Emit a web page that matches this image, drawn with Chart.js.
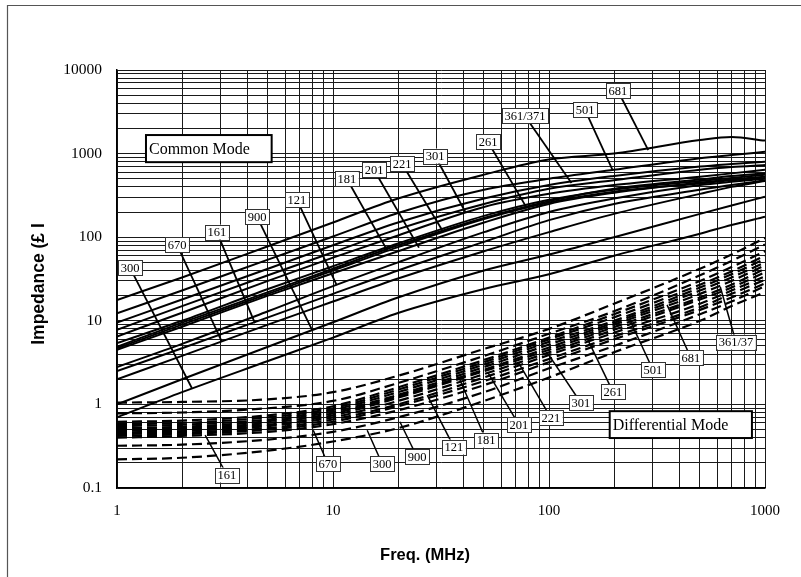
<!DOCTYPE html>
<html><head><meta charset="utf-8">
<script src="https://cdn.jsdelivr.net/npm/chart.js@4/dist/chart.umd.min.js"></script>
<style>html,body{margin:0;padding:0;background:#fff;}canvas{display:block;}</style>
</head><body>
<canvas id="c" width="801" height="577"></canvas>
<script>
// ---- data (MHz / Ohm) ----
const freqs = [1, 2, 5, 10, 20, 50, 100, 200, 500, 700, 1000];
// Common mode impedance curves
const cm681 = [17.7, 33, 78, 150, 290, 560, 850, 1000, 1450, 1580, 1430];
const cm501 = [12.3, 23, 54, 102, 195, 370, 500, 640, 880, 960, 1050];
const cm361 = [9.5, 18, 42, 80, 150, 290, 420, 540, 700, 750, 800];
const cm371 = [7.8, 15, 35, 66, 125, 250, 380, 480, 640, 690, 730];
const cm301 = [6.5, 12.5, 30, 57, 105, 230, 330, 420, 530, 580, 640];
const cm261 = [4.9, 9.5, 22, 42, 80, 170, 270, 380, 490, 540, 580];
const cm221 = [5.4, 10, 24, 45, 84, 180, 280, 370, 470, 510, 560];
const cm201 = [4.5, 8.5, 20, 37, 68, 150, 250, 340, 450, 490, 530];
const cm181 = [4.7, 9, 21, 40, 76, 165, 260, 350, 440, 480, 510];
const cm121 = [2.8, 5.3, 13, 26, 50, 115, 200, 290, 420, 460, 500];
const cm161 = [2.5, 4.7, 11, 21, 40, 88, 160, 250, 370, 420, 480];
const cm670 = [2.0, 3.8, 9, 17, 32, 68, 115, 190, 330, 400, 470];
const cm900 = [1.0, 2.0, 4.9, 9.6, 19, 40, 62, 100, 190, 240, 305];
const cm300 = [0.7, 1.4, 3.3, 6.3, 12.4, 24, 36, 60, 110, 140, 176];
// Differential mode impedance curves
const dmA = [1.05, 1.07, 1.15, 1.4, 2.2, 4.6, 8, 16, 42, 62, 98];
const dmB = [0.78, 0.8, 0.9, 1.1, 1.8, 3.8, 7, 13, 35, 52, 82];
const dmC = [0.62, 0.64, 0.74, 0.95, 1.6, 3.4, 6.3, 12, 30, 44, 68];
const dmD = [0.58, 0.6, 0.7, 0.9, 1.5, 3.2, 6, 11, 27, 39, 60];
const dmE = [0.55, 0.57, 0.66, 0.86, 1.4, 3.0, 5.6, 10, 25, 36, 55];
const dmF = [0.52, 0.54, 0.63, 0.82, 1.3, 2.8, 5.2, 9.5, 23, 33, 50];
const dmG = [0.5, 0.52, 0.6, 0.78, 1.25, 2.6, 4.8, 9, 21, 30, 46];
const dmH = [0.48, 0.5, 0.57, 0.74, 1.2, 2.5, 4.5, 8.4, 19, 27, 42];
const dmI = [0.46, 0.48, 0.55, 0.7, 1.1, 2.3, 4.2, 7.8, 18, 25, 38];
const dmJ = [0.44, 0.46, 0.52, 0.66, 1.0, 2.1, 3.9, 7.2, 16, 23, 34];
const dmK = [0.42, 0.44, 0.5, 0.62, 0.95, 1.9, 3.5, 6.5, 14.5, 21, 31];
const dmL = [0.4, 0.42, 0.47, 0.58, 0.85, 1.7, 3.2, 6, 13.5, 19, 28];
const dmM = [0.32, 0.33, 0.38, 0.47, 0.7, 1.4, 2.7, 5, 12, 17, 26];
const dmN = [0.22, 0.23, 0.28, 0.36, 0.52, 1.1, 2.1, 4.2, 10, 15, 22];
const xTickLabels = ['1', '10', '100', '1000'];
const yTickLabels = ['0.1', '1', '10', '100', '1000', '10000'];
// part-number callouts: text, label anchor (MHz, Ohm), curve target (MHz, Ohm)
const cmNames   = ['300', '670', '161', '900', '121', '181', '201', '221', '301', '261', '361/371', '501', '681'];
const cmLabelF  = [1.149, 1.896, 2.90, 4.45, 6.81, 11.6, 15.5, 20.9, 29.7, 52.2, 77.4, 146.8, 208.6];
const cmLabelZ  = [42.9, 80.7, 115, 175, 279, 497, 637, 751, 935, 1377, 2818, 3326, 5610];
const cmTargetF = [2.22, 3.06, 4.35, 8.0, 10.4, 17.8, 25, 32, 41, 79, 127, 197, 288];
const cmTargetZ = [1.57, 5.6, 9.4, 7.8, 26.8, 70, 75, 122, 200, 223, 445, 635, 1100];
const dmNames   = ['161', '670', '300', '900', '121', '181', '201', '221', '301', '261', '501', '681', '361/37'];
const dmLabelF  = [3.23, 9.48, 16.9, 24.5, 36.3, 51.1, 72.6, 102, 140.6, 197.8, 303, 454, 734];
const dmLabelZ  = [0.143, 0.194, 0.194, 0.235, 0.309, 0.375, 0.568, 0.688, 1.04, 1.41, 2.58, 3.59, 5.57];
const dmTargetF = [2.56, 8.1, 14.4, 20.4, 27.3, 38.7, 52, 72, 98, 150, 237, 352, 621];
const dmTargetZ = [0.43, 0.49, 0.49, 0.62, 1.29, 1.96, 2.44, 3.2, 4.2, 6.2, 10.2, 15.5, 25.4];
const xTitle = 'Freq. (MHz)';
const yTitle = 'Impedance (£ Ι';

const cmSeries = [cm681, cm501, cm361, cm371, cm301, cm261, cm221, cm201, cm181, cm121, cm161, cm670, cm900, cm300];
const dmSeries = [dmA, dmB, dmC, dmD, dmE, dmF, dmG, dmH, dmI, dmJ, dmK, dmL, dmM, dmN];

function logTicks(minExp, maxExp) {
  const t = [];
  for (let e = minExp; e < maxExp; e++) for (let s = 1; s < 10; s++) t.push({value: +(s * Math.pow(10, e)).toPrecision(6)});
  t.push({value: Math.pow(10, maxExp)});
  return t;
}
const toPts = arr => freqs.map((f, i) => ({x: f, y: arr[i]}));
const datasets = [];
cmSeries.forEach(a => datasets.push({data: toPts(a), borderColor: '#000', borderWidth: 2, pointRadius: 0, fill: false, cubicInterpolationMode: 'monotone'}));
dmSeries.forEach(a => datasets.push({data: toPts(a), borderColor: '#000', borderWidth: 2.2, borderDash: [10, 5], pointRadius: 0, fill: false, cubicInterpolationMode: 'monotone'}));

const serif = '"Liberation Serif", "Times New Roman", serif';
const sans = '"Liberation Sans", Arial, sans-serif';

const decor = {
  id: 'decor',
  beforeDraw(chart) {
    const c = chart.ctx;
    c.save();
    c.fillStyle = '#fff'; c.fillRect(0, 0, chart.width, chart.height);
    c.strokeStyle = '#555'; c.lineWidth = 1.2;
    c.beginPath(); c.moveTo(7.5, chart.height); c.lineTo(7.5, 5.5); c.lineTo(chart.width, 5.5); c.stroke();
    c.restore();
  },
  afterDraw(chart) {
    const c = chart.ctx, a = chart.chartArea;
    c.save();
    c.fillStyle = '#000';
    c.font = 'bold 16.5px ' + sans; c.textAlign = 'center'; c.textBaseline = 'middle';
    c.fillText(xTitle, (a.left + a.right) / 2 - 16, 555);
    c.translate(39, (a.top + a.bottom) / 2 + 5); c.rotate(-Math.PI / 2);
    c.font = 'bold 17.5px ' + sans;
    c.fillText(yTitle, 0, 0);
    c.restore();
  },
  afterDatasetsDraw(chart) {
    const c = chart.ctx, xs = chart.scales.x, ys = chart.scales.y;
    c.save();
    const drawCallouts = (names, lf, lz, tf, tz, lw) => {
      c.font = '12.5px ' + serif;
      names.forEach((n, i) => {
        const lx = xs.getPixelForValue(lf[i]), ly = ys.getPixelForValue(lz[i]);
        const tx = xs.getPixelForValue(tf[i]), ty = ys.getPixelForValue(tz[i]);
        c.strokeStyle = '#000'; c.lineWidth = lw;
        c.beginPath(); c.moveTo(lx, ly); c.lineTo(tx, ty); c.stroke();
        const w = c.measureText(n).width + 5, h = 15;
        c.fillStyle = '#fff'; c.fillRect(lx - w / 2, ly - h / 2, w, h);
        c.strokeStyle = '#333'; c.lineWidth = 1;
        c.strokeRect(Math.round(lx - w / 2) + 0.5, Math.round(ly - h / 2) + 0.5, Math.round(w), h);
        c.fillStyle = '#000'; c.textAlign = 'center'; c.textBaseline = 'middle';
        c.fillText(n, lx, ly + 1);
      });
    };
    drawCallouts(cmNames, cmLabelF, cmLabelZ, cmTargetF, cmTargetZ, 1.8);
    drawCallouts(dmNames, dmLabelF, dmLabelZ, dmTargetF, dmTargetZ, 1.5);
    const box = (text, f0, z0, f1, z1) => {
      const x0 = xs.getPixelForValue(f0), y0 = ys.getPixelForValue(z0);
      const x1 = xs.getPixelForValue(f1), y1 = ys.getPixelForValue(z1);
      c.fillStyle = '#fff'; c.fillRect(x0, y0, x1 - x0, y1 - y0);
      c.strokeStyle = '#000'; c.lineWidth = 2; c.strokeRect(x0, y0, x1 - x0, y1 - y0);
      c.fillStyle = '#000'; c.font = '16px ' + serif; c.textAlign = 'left'; c.textBaseline = 'middle';
      c.fillText(text, x0 + 3, (y0 + y1) / 2 + 1);
    };
    box('Common Mode', 1.362, 1667, 5.2, 790);
    box('Differential Mode', 191, 0.83, 870, 0.396);
    c.restore();
  }
};

new Chart(document.getElementById('c'), {
  type: 'line',
  data: {datasets},
  plugins: [decor],
  options: {
    responsive: false, animation: false, devicePixelRatio: 1,
    layout: {padding: {left: 0, right: 36, top: 70, bottom: 0}},
    plugins: {legend: {display: false}, tooltip: {enabled: false}},
    scales: {
      x: {
        type: 'logarithmic', min: 1, max: 1000,
        afterBuildTicks: s => { s.ticks = logTicks(0, 3); },
        afterFit: s => { s.height = 89; },
        grid: {color: '#1a1a1a', lineWidth: 1, drawTicks: false},
        border: {color: '#000', width: 1.5},
        ticks: {autoSkip: false, maxRotation: 0, padding: 14, color: '#000', font: {family: serif, size: 15},
          callback: v => { const s = String(v); return xTickLabels.includes(s) ? s : ''; }},
        title: {display: false}
      },
      y: {
        type: 'logarithmic', min: 0.1, max: 10000,
        afterBuildTicks: s => { s.ticks = logTicks(-1, 4); },
        afterFit: s => { s.width = 117; },
        grid: {color: '#1a1a1a', lineWidth: 1, drawTicks: false},
        border: {color: '#000', width: 1.5},
        ticks: {autoSkip: false, padding: 15, color: '#000', font: {family: serif, size: 15.5},
          callback: v => { const s = String(v); return yTickLabels.includes(s) ? s : ''; }},
        title: {display: false}
      }
    }
  }
});
</script>
</body></html>
